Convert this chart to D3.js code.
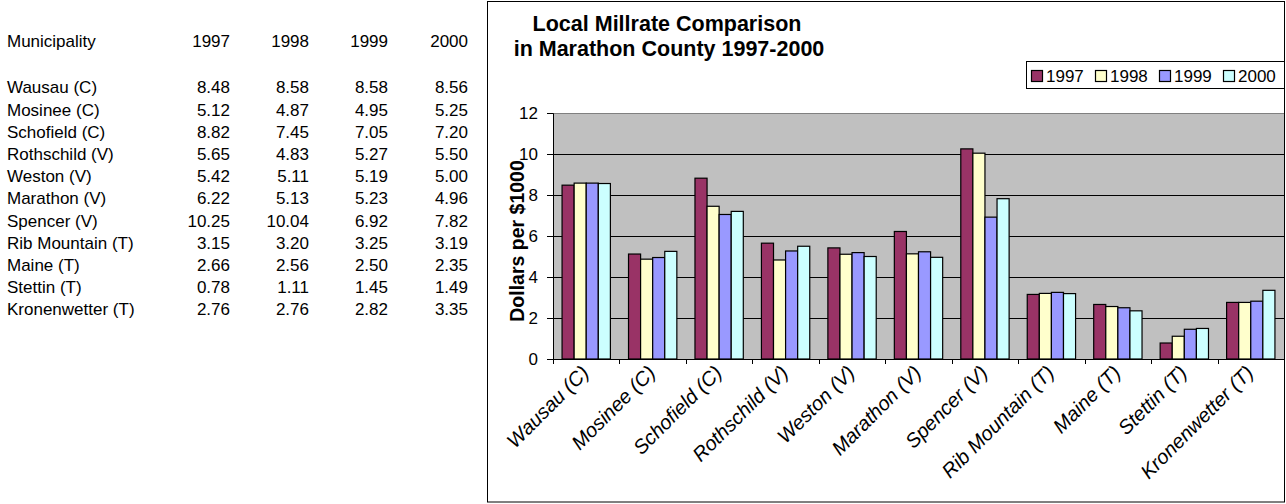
<!DOCTYPE html>
<html>
<head>
<meta charset="utf-8">
<script src="https://cdn.jsdelivr.net/npm/d3@7"></script>
<style>
  html, body { margin: 0; padding: 0; background: #fff; }
  svg { display: block; font-family: "Liberation Sans", Arial, sans-serif; }
</style>
</head>
<body>
<svg id="chart" width="1286" height="504"></svg>
<script>
// Local millrates (dollars per $1000 of assessed value), Marathon County
const municipalities = ["Wausau (C)", "Mosinee (C)", "Schofield (C)", "Rothschild (V)", "Weston (V)",
  "Marathon (V)", "Spencer (V)", "Rib Mountain (T)", "Maine (T)", "Stettin (T)", "Kronenwetter (T)"];
const years = ["1997", "1998", "1999", "2000"];
const rate1997 = [8.48, 5.12, 8.82, 5.65, 5.42, 6.22, 10.25, 3.15, 2.66, 0.78, 2.76];
const rate1998 = [8.58, 4.87, 7.45, 4.83, 5.11, 5.13, 10.04, 3.20, 2.56, 1.11, 2.76];
const rate1999 = [8.58, 4.95, 7.05, 5.27, 5.19, 5.23, 6.92, 3.25, 2.50, 1.45, 2.82];
const rate2000 = [8.56, 5.25, 7.20, 5.50, 5.00, 4.96, 7.82, 3.19, 2.35, 1.49, 3.35];
const yTickValues = [0, 2, 4, 6, 8, 10, 12];
const seriesColors = ["#993366", "#FFFFCC", "#9999FF", "#CCFFFF"];

const seriesValues = [rate1997, rate1998, rate1999, rate2000];
const svg = d3.select("#chart");

// ---- data table on the left ----
const table = svg.append("g").attr("font-size", 17).attr("fill", "#000");
const colRight = [230, 309, 388, 468];
table.append("text").attr("x", 7).attr("y", 47).text("Municipality");
years.forEach((yr, j) => table.append("text").attr("x", colRight[j]).attr("y", 47)
  .attr("text-anchor", "end").text(yr));
const rowY = d3.scaleLinear().domain([0, 1]).range([93.3, 115.5]);
municipalities.forEach((m, i) => {
  table.append("text").attr("x", 7).attr("y", rowY(i)).text(m);
  seriesValues.forEach((vals, j) => table.append("text").attr("x", colRight[j]).attr("y", rowY(i))
    .attr("text-anchor", "end").text(vals[i].toFixed(2)));
});

// ---- chart frame ----
svg.append("rect").attr("x", 487.5).attr("y", 1.5).attr("width", 797).attr("height", 500.5)
  .attr("fill", "#fff").attr("stroke", "#000").attr("stroke-width", 1);

const plot = { left: 553, right: 1284, top: 113, bottom: 359 };

const x = d3.scaleBand().domain(municipalities).range([plot.left, plot.right]).paddingInner(0).paddingOuter(0);
const xSub = d3.scaleBand().domain(years).range([0, x.bandwidth()]).paddingInner(0).paddingOuter(0.75);
const y = d3.scaleLinear().domain([0, 12]).range([plot.bottom, plot.top]);

// plot background
svg.append("rect").attr("x", plot.left).attr("y", plot.top)
  .attr("width", plot.right - plot.left).attr("height", plot.bottom - plot.top)
  .attr("fill", "#C0C0C0");

// gridlines
svg.append("g").selectAll("line").data(yTickValues.filter(v => v > 0 && v < 12)).join("line")
  .attr("x1", plot.left).attr("x2", plot.right)
  .attr("y1", d => Math.round(y(d)) + 0.5).attr("y2", d => Math.round(y(d)) + 0.5)
  .attr("stroke", "#000").attr("stroke-width", 1);
svg.append("line").attr("x1", plot.left).attr("x2", plot.right)
  .attr("y1", plot.top + 0.5).attr("y2", plot.top + 0.5).attr("stroke", "#808080");

// bars
const groups = svg.append("g").selectAll("g").data(municipalities).join("g")
  .attr("transform", d => `translate(${x(d)},0)`);
groups.selectAll("rect").data((d, i) => years.map((yr, j) => ({ yr, v: seriesValues[j][i], c: seriesColors[j] })))
  .join("rect")
  .attr("x", d => xSub(d.yr))
  .attr("y", d => y(d.v))
  .attr("width", xSub.bandwidth())
  .attr("height", d => y(0) - y(d.v))
  .attr("fill", d => d.c)
  .attr("stroke", "#000").attr("stroke-width", 1.2);

// y axis
const yAxis = d3.axisLeft(y).tickValues(yTickValues).tickSize(6).tickPadding(9).tickFormat(d3.format("d"));
const yg = svg.append("g").attr("transform", `translate(${plot.left},0)`).call(yAxis);
yg.select(".domain").attr("stroke", "#000");
yg.selectAll(".tick line").attr("stroke", "#000");
yg.selectAll(".tick text").attr("font-size", 17).attr("fill", "#000")
  .attr("font-family", "'Liberation Sans', Arial, sans-serif");

// x axis
const xAxis = d3.axisBottom(x).tickSize(0).tickFormat("");
const xg = svg.append("g").attr("transform", `translate(0,${plot.bottom})`).call(xAxis);
xg.select(".domain").attr("stroke", "#000");
xg.selectAll(".tick").remove();
const boundaries = municipalities.map(m => x(m)).concat([plot.right]);
xg.selectAll("line.cat").data(boundaries).join("line").attr("class", "cat")
  .attr("x1", d => Math.round(d) + 0.5).attr("x2", d => Math.round(d) + 0.5)
  .attr("y1", 0).attr("y2", 5).attr("stroke", "#000");
xg.selectAll("text.cat").data(municipalities).join("text").attr("class", "cat")
  .attr("transform", d => `translate(${x(d) + x.bandwidth() / 2 + 4},${15}) rotate(-45)`)
  .attr("text-anchor", "end").attr("font-size", 20).attr("font-style", "italic").attr("fill", "#000")
  .text(d => d);

// axis title
svg.append("text").attr("transform", "translate(524,241) rotate(-90)")
  .attr("text-anchor", "middle").attr("font-size", 19.5).attr("font-weight", "bold")
  .text("Dollars per $1000");

// chart title
const title = svg.append("text").attr("text-anchor", "middle").attr("font-size", 21.5).attr("font-weight", "bold");
title.append("tspan").attr("x", 667).attr("y", 31).text("Local Millrate Comparison");
title.append("tspan").attr("x", 669).attr("y", 56).text("in Marathon County 1997-2000");

// legend
const legend = svg.append("g");
legend.append("rect").attr("x", 1026.5).attr("y", 61.5).attr("width", 258).attr("height", 27)
  .attr("fill", "#fff").attr("stroke", "#000");
const legX = d3.scalePoint().domain(years).range([1031, 1223]);
years.forEach((yr, j) => {
  legend.append("rect").attr("x", legX(yr) + 0.5).attr("y", 70.5).attr("width", 11).attr("height", 11)
    .attr("fill", seriesColors[j]).attr("stroke", "#000").attr("stroke-width", 1.2);
  legend.append("text").attr("x", legX(yr) + 15).attr("y", 82).attr("font-size", 17).text(yr);
});
</script>
</body>
</html>
